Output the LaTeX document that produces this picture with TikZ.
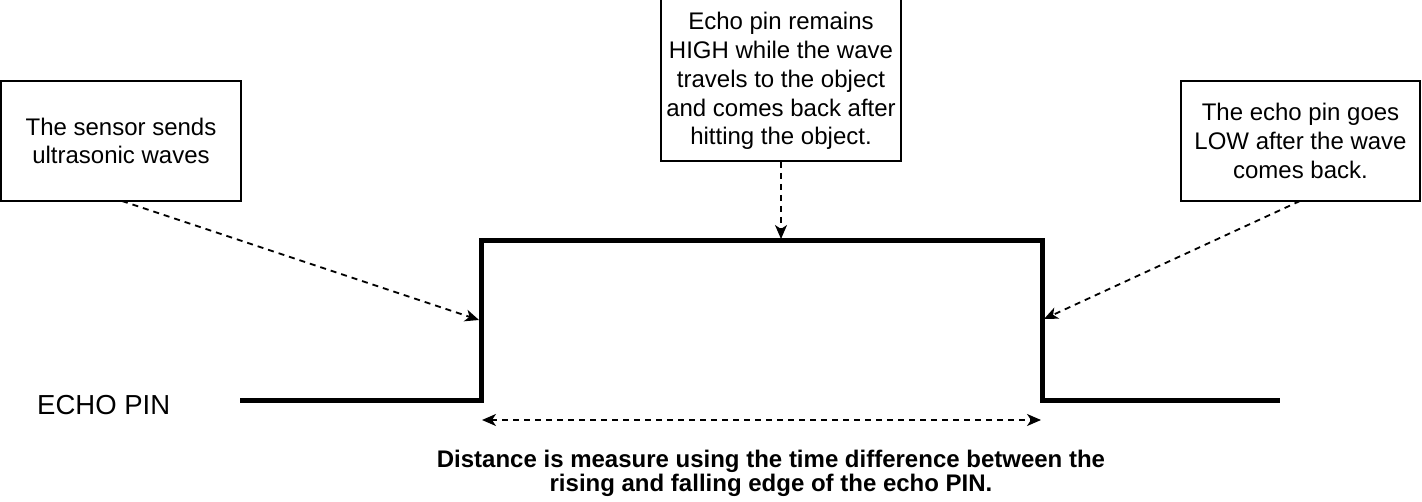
\documentclass[tikz,border=0pt]{standalone}
\usepackage{fontspec}
\setmainfont{Liberation Sans}
\usetikzlibrary{arrows.meta}
\begin{document}
\begin{tikzpicture}[x=1pt,y=-1pt,
  box/.style={draw=black,line width=2pt,rectangle,inner sep=0pt},
  txt/.style={align=center,font=\fontsize{24}{28.8}\selectfont,inner sep=0pt},
  wave/.style={line width=5pt,line join=miter},
  darr/.style={line width=1.8pt,dash pattern=on 6pt off 5pt,-{Stealth[length=14pt,width=12pt,inset=4pt]}},
  ddarr/.style={line width=1.8pt,dash pattern=on 6pt off 5pt,{Stealth[length=14pt,width=12pt,inset=4pt]}-{Stealth[length=14pt,width=12pt,inset=4pt]}}]
\useasboundingbox (0,0) rectangle (1422,502);
% boxes
\node[box,minimum width=240pt,minimum height=120pt] (lbox) at (121,141) {};
\node[txt] (ltxt) at (121,141) {The sensor sends\\ultrasonic waves};
\node[box,minimum width=240pt,minimum height=162pt] (mbox) at (781,80) {};
\node[txt] (mtxt) at (781,81) {Echo pin remains\\HIGH while the wave\\travels to the object\\and comes back after\\hitting the object.};
\node[box,minimum width=239pt,minimum height=120pt] (rbox) at (1300.5,141) {};
\node[txt] (rtxt) at (1300.5,141) {The echo pin goes\\LOW after the wave\\comes back.};
\node[txt,anchor=west,font=\fontsize{27.5}{30}\selectfont] (echo) at (37,405) {ECHO PIN};
% waveform
\coordinate (w0) at (240,401);
\coordinate (w1) at (481,401);
\coordinate (w2) at (481,241);
\coordinate (w3) at (1042,241);
\coordinate (w4) at (1042,401);
\coordinate (w5) at (1280,401);
\draw[wave] (w0) -- (w1) -- (w2) -- (w3) -- (w4) -- (w5);
% arrow targets
\coordinate (ta) at (479,320);
\coordinate (tb) at (781,239);
\coordinate (tc) at (1044,319);
\coordinate (sa) at (122,201);
\coordinate (sc) at (1300,201);
\draw[darr] (sa) -- (ta);
\draw[darr] (mbox.south) -- (tb);
\draw[darr] (sc) -- (tc);
\coordinate (da) at (482,420);
\coordinate (db) at (1041,420);
\draw[ddarr] (da) -- (db);
\node[txt,font=\fontsize{24}{24}\bfseries\selectfont] (note) at (771,473) {Distance is measure using the time difference between the\\rising and falling edge of the echo PIN.};
\end{tikzpicture}
\end{document}
